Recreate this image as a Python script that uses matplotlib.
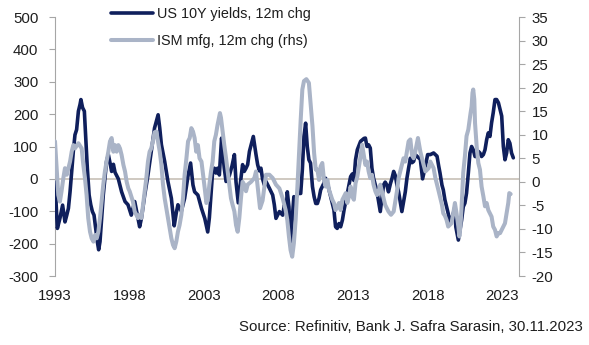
import matplotlib
matplotlib.use("Agg")
import matplotlib.pyplot as plt

# ---------------- data ----------------
us10y_dates = [
    1993.00, 1993.16, 1993.33, 1993.51, 1993.67, 1993.79, 1993.90, 1994.01, 1994.12, 1994.23,
    1994.34, 1994.45, 1994.57, 1994.68, 1994.74, 1994.85, 1994.97, 1995.05, 1995.17, 1995.29,
    1995.40, 1995.51, 1995.62, 1995.73, 1995.84, 1995.93, 1996.02, 1996.13, 1996.24, 1996.35,
    1996.46, 1996.58, 1996.69, 1996.80, 1996.92, 1997.03, 1997.25, 1997.47, 1997.70, 1997.90,
    1998.12, 1998.35, 1998.57, 1998.68, 1998.80, 1999.02, 1999.24, 1999.46, 1999.68, 1999.92,
    2000.03, 2000.14, 2000.36, 2000.58, 2000.81, 2001.00, 2001.14, 2001.25, 2001.48, 2001.70,
    2001.93, 2002.10, 2002.26, 2002.37, 2002.59, 2002.83, 2003.05, 2003.25, 2003.36, 2003.47,
    2003.58, 2003.69, 2003.80, 2003.91, 2004.03, 2004.18, 2004.25, 2004.36, 2004.48, 2004.70,
    2004.88, 2005.04, 2005.15, 2005.30, 2005.48, 2005.59, 2005.70, 2005.82, 2005.93, 2006.05,
    2006.31, 2006.49, 2006.60, 2006.71, 2006.82, 2006.93, 2007.05, 2007.16, 2007.39, 2007.61,
    2007.72, 2007.83, 2008.06, 2008.28, 2008.40, 2008.50, 2008.59, 2008.70, 2008.81, 2008.92,
    2009.03, 2009.15, 2009.27, 2009.49, 2009.60, 2009.71, 2009.82, 2009.93, 2010.04, 2010.15,
    2010.28, 2010.39, 2010.50, 2010.61, 2010.72, 2010.83, 2011.05, 2011.16, 2011.28, 2011.50,
    2011.72, 2011.83, 2011.94, 2012.06, 2012.17, 2012.29, 2012.40, 2012.62, 2012.84, 2012.95,
    2013.06, 2013.17, 2013.29, 2013.51, 2013.74, 2013.83, 2013.94, 2014.05, 2014.16, 2014.27,
    2014.38, 2014.50, 2014.61, 2014.72, 2014.83, 2014.94, 2015.05, 2015.16, 2015.27, 2015.38,
    2015.51, 2015.62, 2015.73, 2015.84, 2015.95, 2016.06, 2016.17, 2016.28, 2016.39, 2016.51,
    2016.62, 2016.73, 2016.85, 2016.96, 2017.07, 2017.18, 2017.29, 2017.52, 2017.67, 2017.86,
    2018.01, 2018.19, 2018.41, 2018.64, 2018.75, 2018.84, 2018.97, 2019.06, 2019.17, 2019.28,
    2019.39, 2019.50, 2019.73, 2019.84, 2019.90, 2019.99, 2020.07, 2020.18, 2020.29, 2020.40,
    2020.51, 2020.62, 2020.74, 2020.85, 2020.96, 2021.07, 2021.19, 2021.30, 2021.41, 2021.52,
    2021.63, 2021.75, 2021.86, 2021.97, 2022.08, 2022.19, 2022.30, 2022.41, 2022.53, 2022.64,
    2022.76, 2022.87, 2022.98, 2023.09, 2023.20, 2023.31, 2023.42, 2023.53, 2023.64, 2023.76,
]
us10y_bp = [
    -10, -153, -122, -81, -133, -112, -91, -40, 23, 85,
    136, 152, 209, 230, 245, 220, 209, 136, 33, -50,
    -80, -101, -112, -153, -194, -219, -194, -122, -50, 2,
    54, 75, 50, 23, 45, 20, 0, -40, -70, -80,
    -112, -70, -122, -148, -122, -50, 12, 85, 157, 198,
    157, 106, 54, -8, -60, -145, -105, -80, -100, -60,
    10, 49, -19, -40, -50, -91, -122, -164, -120, -50,
    23, 33, 18, 33, 12, 126, 85, 33, -8, 10,
    40, 75, -10, -74, 2, 44, 23, 33, 44, 85,
    131, 75, 44, 25, 33, 0, -19, -8, -29, -50,
    -80, -122, -101, -112, -80, -105, -40, -86, -195, -127,
    -55, -65, -45, -45, 28, 131, 172, 100, 59, 49,
    -24, -55, -76, -76, -60, -34, -13, 2, -13, -55,
    -96, -148, -153, -138, -148, -127, -96, -45, 7, 15,
    -5, 59, 90, 116, 125, 126, 100, 105, 95, 33,
    2, -19, -40, -71, -101, -60, -19, -10, -19, -40,
    -15, 2, 23, 10, -19, -40, -71, -101, -71, -40,
    2, 33, 64, 50, 54, 75, 70, 60, 0, 40,
    75, 75, 80, 70, 40, 18, -19, -34, -65, -86,
    -107, -138, -107, -86, -148, -169, -189, -158, -127, -86,
    -75, -44, 18, 80, 100, 90, 69, 69, 85, 80,
    69, 75, 90, 121, 142, 131, 173, 204, 245, 245,
    235, 214, 194, 100, 59, 80, 121, 110, 80, 65,
]

ism_dates = [
    1993.00, 1993.11, 1993.22, 1993.33, 1993.44, 1993.56, 1993.67, 1993.79, 1994.01, 1994.12,
    1994.23, 1994.34, 1994.57, 1994.79, 1994.90, 1995.01, 1995.12, 1995.23, 1995.35, 1995.46,
    1995.58, 1995.69, 1995.80, 1995.91, 1996.02, 1996.13, 1996.24, 1996.35, 1996.46, 1996.58,
    1996.69, 1996.80, 1996.92, 1997.03, 1997.14, 1997.25, 1997.36, 1997.47, 1997.59, 1997.70,
    1997.81, 1997.92, 1998.01, 1998.23, 1998.35, 1998.57, 1998.68, 1998.80, 1998.91, 1999.02,
    1999.13, 1999.24, 1999.35, 1999.46, 1999.57, 1999.68, 1999.80, 1999.91, 2000.03, 2000.14,
    2000.25, 2000.36, 2000.47, 2000.58, 2000.69, 2000.81, 2000.92, 2001.03, 2001.14, 2001.25,
    2001.36, 2001.48, 2001.59, 2001.70, 2001.82, 2001.93, 2002.04, 2002.15, 2002.26, 2002.37,
    2002.48, 2002.59, 2002.70, 2002.83, 2002.94, 2003.05, 2003.16, 2003.25, 2003.36, 2003.47,
    2003.58, 2003.69, 2003.80, 2003.91, 2004.07, 2004.14, 2004.25, 2004.36, 2004.48, 2004.59,
    2004.70, 2004.81, 2004.92, 2005.04, 2005.15, 2005.26, 2005.37, 2005.48, 2005.59, 2005.70,
    2005.82, 2005.93, 2006.16, 2006.38, 2006.49, 2006.60, 2006.76, 2006.93, 2007.16, 2007.39,
    2007.61, 2007.83, 2008.06, 2008.28, 2008.48, 2008.59, 2008.70, 2008.81, 2008.92, 2009.03,
    2009.15, 2009.27, 2009.38, 2009.49, 2009.60, 2009.71, 2009.87, 2010.04, 2010.15, 2010.28,
    2010.39, 2010.50, 2010.61, 2010.72, 2010.83, 2010.94, 2011.05, 2011.16, 2011.28, 2011.39,
    2011.61, 2011.72, 2011.83, 2011.94, 2012.06, 2012.17, 2012.29, 2012.40, 2012.51, 2012.62,
    2012.73, 2012.84, 2012.95, 2013.06, 2013.17, 2013.29, 2013.40, 2013.51, 2013.61, 2013.72,
    2013.83, 2013.94, 2014.05, 2014.16, 2014.27, 2014.38, 2014.50, 2014.61, 2014.72, 2014.83,
    2014.94, 2015.05, 2015.16, 2015.27, 2015.38, 2015.55, 2015.73, 2015.84, 2015.95, 2016.06,
    2016.17, 2016.28, 2016.39, 2016.51, 2016.62, 2016.73, 2016.85, 2016.96, 2017.07, 2017.18,
    2017.36, 2017.52, 2017.63, 2017.74, 2017.86, 2018.08, 2018.19, 2018.30, 2018.41, 2018.53,
    2018.64, 2018.75, 2018.86, 2018.97, 2019.06, 2019.17, 2019.28, 2019.39, 2019.61, 2019.73,
    2019.84, 2019.95, 2020.07, 2020.14, 2020.22, 2020.29, 2020.40, 2020.51, 2020.62, 2020.74,
    2020.80, 2020.89, 2020.96, 2021.02, 2021.07, 2021.14, 2021.19, 2021.30, 2021.41, 2021.52,
    2021.63, 2021.75, 2021.86, 2021.97, 2022.08, 2022.19, 2022.30, 2022.41, 2022.53, 2022.64,
    2022.76, 2022.87, 2022.98, 2023.09, 2023.20, 2023.31, 2023.42, 2023.49, 2023.58,
]
ism_chg = [
    8.6, 2.9, -2.8, -4.2, -2.0, 0.8, 2.9, 1.5, 4.3, 6.4,
    7.8, 7.1, 8.2, 7.1, 3.6, 0.8, -2.8, -7.7, -10.6, -12.0,
    -12.7, -11.3, -12.0, -10.6, -7.7, -4.2, -0.6, 2.2, 4.3, 6.4,
    8.6, 9.3, 6.4, 7.8, 6.4, 7.8, 7.1, 5.7, 3.6, 2.2,
    0.0, -1.4, -2.0, -4.2, -6.3, -7.7, -7.0, -7.7, -4.9, -2.0,
    0.8, 4.3, 6.4, 7.1, 8.6, 10.5, 10.7, 8.6, 6.4, 3.6,
    -0.6, -3.5, -5.6, -7.7, -9.9, -12.0, -13.4, -14.1, -12.7, -10.6,
    -9.2, -7.0, -3.5, 1.5, 5.0, 8.6, 9.3, 11.4, 10.7, 9.3,
    6.4, 7.8, 5.0, 4.3, 1.5, -1.4, -4.5, -4.0, -0.6, 2.2,
    4.3, 8.6, 10.0, 12.1, 14.6, 13.6, 10.7, 7.8, 5.0, 2.2,
    -0.6, -3.5, -4.9, -6.3, -9.2, -10.6, -7.7, -3.5, 0.0, -0.6,
    -2.0, -0.6, 0.0, 0.8, 2.2, -1.0, -5.6, -4.0, 1.5, 1.5,
    0.8, -0.6, -1.4, -3.5, -6.0, -8.1, -11.6, -14.5, -15.9, -13.1,
    -8.1, -1.0, 6.1, 13.2, 19.6, 21.4, 21.8, 21.0, 16.8, 11.8,
    6.1, 2.6, 2.6, 0.4, 3.3, 4.0, 0.4, -1.0, 0.4, -1.7,
    -3.8, -4.5, -6.0, -5.3, -4.5, -6.0, -3.8, -3.1, -2.4, -4.5,
    -3.1, -1.0, -3.1, -3.8, -0.3, 1.1, 3.3, 5.5, 7.9, 5.7,
    3.6, 4.3, 2.2, 0.8, 1.5, -0.6, -2.0, -2.8, -2.0, -0.6,
    -2.0, -3.5, -4.9, -5.6, -6.3, -7.0, -6.3, -4.2, -2.0, 0.8,
    2.2, 3.6, 5.0, 4.3, 6.4, 8.6, 9.0, 5.7, 5.0, 6.4,
    9.3, 6.4, 5.0, 3.6, 2.2, 2.9, 4.3, 3.6, 2.9, 0.8,
    -0.6, -2.0, -3.5, -4.9, -6.7, -7.2, -8.1, -9.5, -8.8, -6.7,
    -4.5, -6.7, -9.5, -11.6, -9.1, -5.2, 2.0, 5.4, 9.7, 11.1,
    12.5, 14.6, 16.0, 18.9, 19.6, 17.5, 12.5, 7.5, 4.0, 2.6,
    -1.0, -3.1, -5.2, -4.5, -6.0, -6.7, -7.4, -9.5, -10.2, -11.6,
    -10.9, -10.9, -10.2, -9.5, -8.8, -6.7, -4.5, -2.4, -2.6,
]

year_ticks = [1993, 1998, 2003, 2008, 2013, 2018, 2023]
year_labels = ["1993", "1998", "2003", "2008", "2013", "2018", "2023"]
left_ticks = [-300, -200, -100, 0, 100, 200, 300, 400, 500]
right_ticks = [-20, -15, -10, -5, 0, 5, 10, 15, 20, 25, 30, 35]

series_labels = ["US 10Y yields, 12m chg", "ISM mfg, 12m chg (rhs)"]
source_text = "Source: Refinitiv, Bank J. Safra Sarasin, 30.11.2023"

# ---------------- style ----------------
NAVY = "#0f1f5c"
LIGHT = "#aab4c7"
ZERO = "#c2bbb0"
SPINE = "#a6a6a6"
TEXT = "#1e1e1e"

plt.rcParams["font.family"] = ["Liberation Sans", "DejaVu Sans"]
plt.rcParams["axes.unicode_minus"] = False

W, H = 589, 345
fig = plt.figure(figsize=(W / 100, H / 100), dpi=100)
L, R, T, B = 55, 519, 17, 276
ax = fig.add_axes([L / W, 1 - B / H, (R - L) / W, (B - T) / H])
ax2 = ax.twinx()

ax.set_xlim(1993.0, 1993.0 + (R - L) / 14.9)
ax.set_ylim(-300, 500)
ax2.set_ylim(-20, 35)

ax.axhline(0, color=ZERO, lw=1.1, zorder=1)
l1, = ax.plot(us10y_dates, us10y_bp, color=NAVY, lw=2.6,
              solid_joinstyle="round", solid_capstyle="round", zorder=3)
l2, = ax2.plot(ism_dates, ism_chg, color=LIGHT, lw=2.9,
               solid_joinstyle="round", solid_capstyle="round", zorder=3)

for a in (ax, ax2):
    for s in ("top", "bottom"):
        a.spines[s].set_visible(False)
ax.spines["right"].set_visible(False)
ax2.spines["left"].set_visible(False)
ax.spines["left"].set_color(SPINE)
ax2.spines["right"].set_color(SPINE)
ax.spines["left"].set_linewidth(0.8)
ax2.spines["right"].set_linewidth(0.8)

ax.set_yticks(left_ticks)
ax.set_yticklabels([str(v) for v in left_ticks])
ax2.set_yticks(right_ticks)
ax2.set_yticklabels([str(v) for v in right_ticks])
ax.tick_params(axis="y", direction="out", length=4, width=0.8, color=SPINE,
               pad=8, labelsize=10.8, labelcolor=TEXT)
ax2.tick_params(axis="y", direction="out", length=4, width=0.8, color=SPINE,
                pad=5, labelsize=10.8, labelcolor=TEXT)

ax.set_xticks(year_ticks)
ax.set_xticklabels(year_labels)
ax.tick_params(axis="x", length=0, pad=9, labelsize=10.8, labelcolor=TEXT)

fig.legend([l1, l2], series_labels, loc="upper left",
           bbox_to_anchor=(111 / W, 1 - 7 / H), frameon=False, fontsize=10.4,
           handlelength=2.9, handletextpad=0.3, labelspacing=0.9,
           borderpad=0, borderaxespad=0, labelcolor=TEXT)

fig.text(583 / W, 1 - 327 / H, source_text, ha="right", va="center",
         fontsize=10.8, color=TEXT)

fig.savefig("out.png", dpi=100)
